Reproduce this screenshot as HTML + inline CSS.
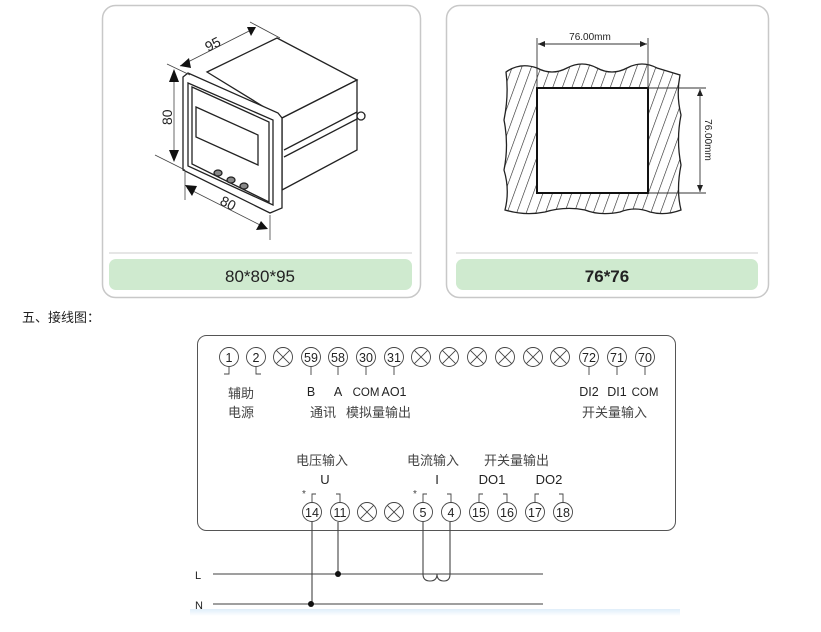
<!DOCTYPE html>
<html><head><meta charset="utf-8"><style>
html,body{margin:0;padding:0;background:#fff;}
svg{display:block;font-family:"Liberation Sans","Noto Sans CJK SC",sans-serif;}
</style></head><body>
<svg width="821" height="632" viewBox="0 0 821 632" xmlns="http://www.w3.org/2000/svg">
<defs>
<pattern id="h" width="9" height="9" patternUnits="userSpaceOnUse" patternTransform="rotate(20)">
<line x1="0" y1="0" x2="0" y2="9" stroke="#222" stroke-width="1.2"/></pattern>
<linearGradient id="bl" x1="0" y1="0" x2="0" y2="1"><stop offset="0" stop-color="#dfeefa"/><stop offset="1" stop-color="#fff"/></linearGradient>
<g id="x"><circle cx="0" cy="0" r="9.5"/><line x1="-6.7" y1="-6.7" x2="6.7" y2="6.7"/><line x1="6.7" y1="-6.7" x2="-6.7" y2="6.7"/></g>
</defs>
<!-- left panel -->
<rect x="102.5" y="5.5" width="318" height="292" rx="13" fill="#fff" stroke="#c8c8c8" stroke-width="1.5"/>
<line x1="109" y1="253" x2="412" y2="253" stroke="#ccc"/>
<rect x="109" y="259" width="303" height="31" rx="7" fill="#cfeacf"/>
<text x="260" y="282" font-size="17" text-anchor="middle" fill="#222">80*80*95</text>
<g stroke="#222" stroke-width="1.3" fill="#fff">
<polygon points="207,72 277,38 357,80 282,118"/>
<polygon points="282,118 357,80 357,150 282,190"/>
<line x1="284" y1="150" x2="357" y2="112"/>
<line x1="284" y1="157" x2="357" y2="119"/>
<polygon points="183,77 188,73 278,113 282,118 282,208 270,213 183,170"/>
<polygon points="188,83 273,120 273,205 188,166" fill="none"/>
<polygon points="192,87 269,122 269,202 192,164" fill="none"/>
<polygon points="196,107 258,135 258,165 196,137" fill="none"/>
<ellipse cx="218" cy="173" rx="4" ry="3" fill="#888"/><ellipse cx="231" cy="180" rx="4" ry="3" fill="#888"/><ellipse cx="244" cy="186" rx="4" ry="3" fill="#888"/>
<circle cx="361" cy="116" r="4"/>
</g>
<g stroke="#444" stroke-width="0.8" fill="none">
<line x1="167" y1="64" x2="190" y2="75"/><line x1="155" y1="155" x2="185" y2="170"/>
<line x1="174" y1="70" x2="174" y2="160"/>
<line x1="185" y1="172" x2="185" y2="200"/><line x1="270" y1="215" x2="270" y2="240"/>
<line x1="187" y1="188" x2="266" y2="228"/>
<line x1="180" y1="66" x2="255" y2="28"/><line x1="250" y1="22" x2="280" y2="38"/>
</g>
<g fill="#111">
<polygon points="174,69 169,82 179,82"/><polygon points="174,162 169,150 179,150"/>
<polygon points="185,185 197,186 192,196"/><polygon points="268,229 256,230 261,221"/>
<polygon points="180,66 189,58 191,68"/><polygon points="256,27 247,27 251,36"/>
</g>
<text x="0" y="0" font-size="14" fill="#222" transform="translate(208,52) rotate(-27)">95</text>
<text x="0" y="0" font-size="14" fill="#222" transform="translate(172,125) rotate(-90)">80</text>
<text x="0" y="0" font-size="14" fill="#222" transform="translate(219,204) rotate(27)">80</text>
<!-- right panel -->
<rect x="446.5" y="5.5" width="322" height="292" rx="13" fill="#fff" stroke="#c8c8c8" stroke-width="1.5"/>
<line x1="456" y1="253" x2="758" y2="253" stroke="#ccc"/>
<rect x="456" y="259" width="302" height="31" rx="7" fill="#cfeacf"/>
<text x="607" y="282" font-size="17" font-weight="bold" text-anchor="middle" fill="#222">76*76</text>
<path d="M506,72 Q520,62 537,68 Q552,76 567,68 Q582,60 597,68 Q612,76 627,68 Q642,60 657,68 Q670,72 680,75 Q676,95 681,115 Q676,140 681,165 Q676,190 681,210 Q665,216 650,212 Q635,206 620,212 Q600,216 585,210 Q565,206 545,212 Q525,216 505,210 Q510,190 504,170 Q509,145 504,120 Q509,95 506,72 Z" fill="url(#h)" stroke="#222" stroke-width="1.3"/>
<rect x="537" y="88" width="111" height="105" fill="#fff" stroke="#111" stroke-width="2"/>
<g stroke="#333" stroke-width="0.9" fill="none">
<line x1="537" y1="38" x2="537" y2="88"/><line x1="648" y1="38" x2="648" y2="88"/>
<line x1="538" y1="44" x2="647" y2="44"/>
<line x1="648" y1="88" x2="706" y2="88"/><line x1="648" y1="193" x2="706" y2="193"/>
<line x1="700" y1="89" x2="700" y2="192"/>
</g>
<g fill="#222"><polygon points="538,44 545,41 545,47"/><polygon points="647,44 640,41 640,47"/>
<polygon points="700,89 697,96 703,96"/><polygon points="700,192 697,185 703,185"/></g>
<text x="590" y="40" font-size="10" text-anchor="middle" fill="#222">76.00mm</text>
<text x="0" y="0" font-size="10" text-anchor="middle" fill="#222" transform="translate(705,140) rotate(90)">76.00mm</text>
<!-- heading -->
<text x="22" y="322" font-size="13" fill="#222">五、接线图：</text>
<!-- wiring box -->
<rect x="197.5" y="335.5" width="478" height="195" rx="9" fill="none" stroke="#555" stroke-width="1"/>
<g stroke="#444" stroke-width="0.9" fill="#fff">
<circle cx="229" cy="357" r="9.5"/><circle cx="256" cy="357" r="9.5"/>
<circle cx="311" cy="357" r="9.5"/><circle cx="338" cy="357" r="9.5"/><circle cx="366" cy="357" r="9.5"/><circle cx="394" cy="357" r="9.5"/>
<circle cx="589" cy="357" r="9.5"/><circle cx="617" cy="357" r="9.5"/><circle cx="645" cy="357" r="9.5"/>
<circle cx="312" cy="512" r="9.5"/><circle cx="340" cy="512" r="9.5"/><circle cx="423" cy="512" r="9.5"/><circle cx="451" cy="512" r="9.5"/>
<circle cx="479" cy="512" r="9.5"/><circle cx="507" cy="512" r="9.5"/><circle cx="535" cy="512" r="9.5"/><circle cx="563" cy="512" r="9.5"/>
<use href="#x" x="283" y="357"/><use href="#x" x="421" y="357"/><use href="#x" x="449" y="357"/><use href="#x" x="477" y="357"/><use href="#x" x="505" y="357"/><use href="#x" x="533" y="357"/><use href="#x" x="560" y="357"/>
<use href="#x" x="367" y="512"/><use href="#x" x="394" y="512"/>
</g>
<g font-size="12.5" text-anchor="middle" fill="#222">
<text x="229" y="362">1</text><text x="256" y="362">2</text><text x="311" y="362">59</text><text x="338" y="362">58</text><text x="366" y="362">30</text><text x="394" y="362">31</text>
<text x="589" y="362">72</text><text x="617" y="362">71</text><text x="645" y="362">70</text>
<text x="312" y="517">14</text><text x="340" y="517">11</text><text x="423" y="517">5</text><text x="451" y="517">4</text>
<text x="479" y="517">15</text><text x="507" y="517">16</text><text x="535" y="517">17</text><text x="563" y="517">18</text>
<text x="311" y="396">B</text><text x="338" y="396">A</text><text x="366" y="396" font-size="11.5">COM</text><text x="394" y="396">AO1</text>
<text x="589" y="396">DI2</text><text x="617" y="396">DI1</text><text x="645" y="396" font-size="11.5">COM</text>
<text x="325" y="484" font-size="13">U</text><text x="437" y="484" font-size="13">I</text><text x="492" y="484" font-size="13">DO1</text><text x="549" y="484" font-size="13">DO2</text>
</g>
<g font-size="13" fill="#444">
<text x="228" y="398">辅助</text><text x="228" y="417">电源</text>
<text x="310" y="417">通讯</text><text x="346" y="417">模拟量输出</text>
<text x="582" y="417">开关量输入</text>
<text x="296" y="465">电压输入</text><text x="407" y="465">电流输入</text><text x="484" y="465">开关量输出</text>
</g>
<g stroke="#444" stroke-width="0.9" fill="none">
<path d="M229,367 V374 H224 M256,367 V374 H261"/>
<path d="M311,367 V375 M338,367 V375 M366,367 V375 M394,367 V375 M589,367 V375 M617,367 V375 M645,367 V375"/>
<path d="M312,502 V494 H316 M340,502 V494 H336 M423,502 V494 H427 M451,502 V494 H447 M479,502 V494 H483 M507,502 V494 H503 M535,502 V494 H539 M563,502 V494 H559"/>
</g>
<text x="302" y="497" font-size="10" fill="#444">*</text><text x="413" y="497" font-size="10" fill="#444">*</text>
<!-- lines -->
<g stroke="#666" stroke-width="1.2" fill="none">
<line x1="213" y1="574" x2="543" y2="574"/><line x1="213" y1="604" x2="543" y2="604"/>
</g>
<g stroke="#444" stroke-width="1.1" fill="none">
<line x1="312" y1="522" x2="312" y2="604"/><line x1="338" y1="522" x2="338" y2="574"/>
<path d="M423,522 V574 Q423,581 430,581 Q437,581 437,574 Q437,581 444,581 Q450,581 450,574 V522"/>
</g>
<circle cx="338" cy="574" r="3" fill="#111"/><circle cx="311" cy="604" r="3" fill="#111"/>
<text x="195" y="579" font-size="11" fill="#222">L</text><text x="195" y="609" font-size="11" fill="#222">N</text>
<rect x="190" y="609" width="490" height="7" fill="url(#bl)"/>
</svg>
</body></html>
